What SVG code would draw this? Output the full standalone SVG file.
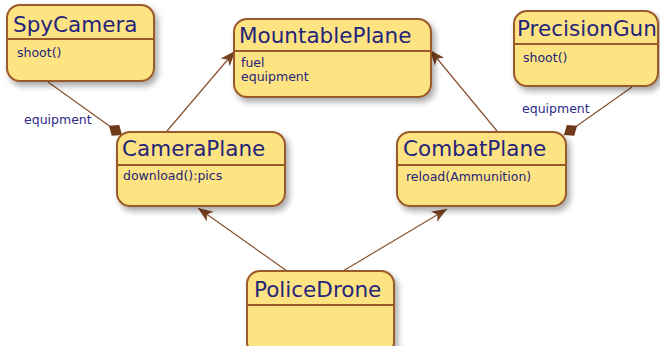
<svg xmlns="http://www.w3.org/2000/svg" width="660" height="346" viewBox="0 0 660 346">
  <style>
    .box { fill: #fee382; stroke: #9a5a2c; stroke-width: 2; }
    .div { stroke: #9a5a2c; stroke-width: 2; }
    .title { font-family: "DejaVu Sans", Verdana, sans-serif; font-size: 21.5px; fill: #24247a; }
    .member { font-family: "DejaVu Sans", Verdana, sans-serif; font-size: 12.5px; fill: #24247a; }
    .role { font-family: "DejaVu Sans", Verdana, sans-serif; font-size: 12.5px; fill: #2c2c88; }
    .edge { stroke: #8a5230; stroke-width: 1.2; fill: none; }
  </style>
  <defs>
    <filter id="shadow" x="-10%" y="-10%" width="130%" height="140%">
      <feDropShadow dx="3" dy="4" stdDeviation="3" flood-color="#000" flood-opacity="0.35"/>
    </filter>
    <marker id="arrow" markerUnits="userSpaceOnUse" orient="auto" markerWidth="18" markerHeight="16" viewBox="-16 -8 18 16" refX="0" refY="0">
      <path d="M0,0 L-15,-6 L-11,0 L-15,6 Z" fill="#7a4220"/>
    </marker>
    <marker id="diamond" markerUnits="userSpaceOnUse" orient="auto" markerWidth="20" markerHeight="16" viewBox="-18 -8 20 16" refX="0" refY="0">
      <path d="M0,0 L-8,-6.5 L-16,0 L-8,6.5 Z" fill="#6e3a1a"/>
    </marker>
  </defs>

  <!-- connectors -->
  <g id="connectors">
    <line class="edge" x1="48" y1="82" x2="122" y2="135" marker-end="url(#diamond)"/>
    <line class="edge" x1="632" y1="87" x2="564" y2="135" marker-end="url(#diamond)"/>
    <line class="edge" x1="167" y1="131" x2="235" y2="51" marker-end="url(#arrow)"/>
    <line class="edge" x1="497" y1="131" x2="430" y2="50" marker-end="url(#arrow)"/>
    <line class="edge" x1="287" y1="271" x2="198" y2="208" marker-end="url(#arrow)"/>
    <line class="edge" x1="343" y1="271" x2="447" y2="209" marker-end="url(#arrow)"/>
    <text class="role" x="24" y="124">equipment</text>
    <text class="role" x="522" y="113">equipment</text>
  </g>

  <g id="SpyCamera">
    <rect class="box" x="7" y="5" width="147" height="76" rx="13" filter="url(#shadow)"/>
    <line class="div" x1="7" y1="39" x2="154" y2="39"/>
    <text class="title" x="13" y="32">SpyCamera</text>
    <text class="member" x="17" y="57">shoot()</text>
  </g>

  <g id="MountablePlane">
    <rect class="box" x="234" y="19" width="197" height="78" rx="13" filter="url(#shadow)"/>
    <line class="div" x1="234" y1="51" x2="431" y2="51"/>
    <text class="title" x="239" y="43">MountablePlane</text>
    <text class="member" x="241" y="67">fuel</text>
    <text class="member" x="241" y="81">equipment</text>
  </g>

  <g id="PrecisionGun">
    <rect class="box" x="514" y="11" width="144" height="75" rx="13" filter="url(#shadow)"/>
    <line class="div" x1="514" y1="44" x2="658" y2="44"/>
    <text class="title" x="517" y="36">PrecisionGun</text>
    <text class="member" x="523" y="62">shoot()</text>
  </g>

  <g id="CameraPlane">
    <rect class="box" x="117" y="132" width="168" height="74" rx="13" filter="url(#shadow)"/>
    <line class="div" x1="117" y1="165" x2="285" y2="165"/>
    <text class="title" x="122" y="156">CameraPlane</text>
    <text class="member" x="123" y="180">download():pics</text>
  </g>

  <g id="CombatPlane">
    <rect class="box" x="397" y="132" width="169" height="74" rx="13" filter="url(#shadow)"/>
    <line class="div" x1="397" y1="165" x2="566" y2="165"/>
    <text class="title" x="403" y="156">CombatPlane</text>
    <text class="member" x="406" y="181">reload(Ammunition)</text>
  </g>

  <g id="PoliceDrone">
    <rect class="box" x="247" y="271" width="147" height="84" rx="13" filter="url(#shadow)"/>
    <line class="div" x1="247" y1="305" x2="394" y2="305"/>
    <text class="title" x="254" y="297">PoliceDrone</text>
  </g>
</svg>
